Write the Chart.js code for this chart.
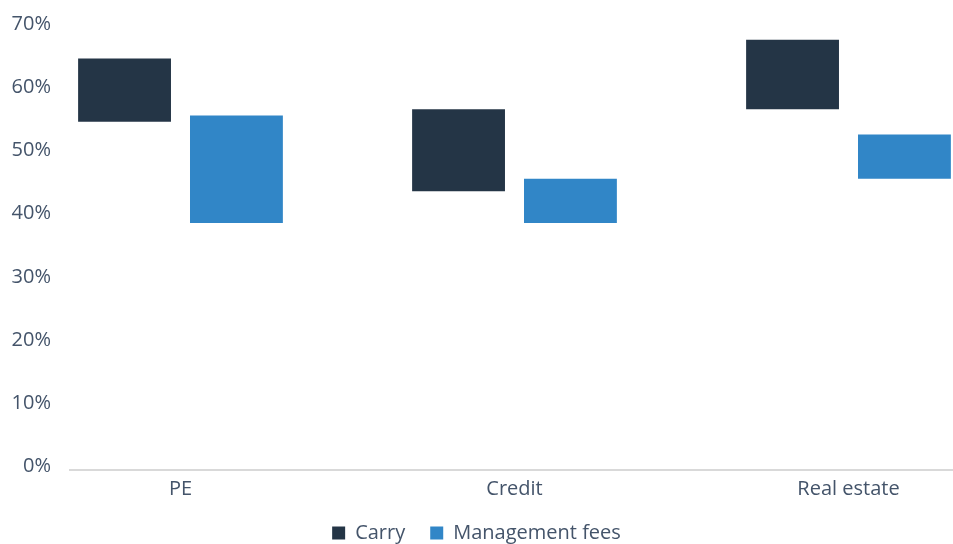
<!DOCTYPE html>
<html>
<head>
  <meta charset="UTF-8">
  <title>Carry vs management fees</title>
  <script src="https://cdn.jsdelivr.net/npm/chart.js"></script>
  <style>
    html, body { margin: 0; padding: 0; background: #fff; overflow: hidden; }
    #wrap { position: relative; width: 953px; height: 544px; }
  </style>
</head>
<body>
  <div id="wrap">
    <canvas id="feesChart"></canvas>
  </div>

  <script>
    // categories and floating ranges [low, high] in %
    const categories = ['PE', 'Credit', 'Real estate'];
    const carryRange = [[55, 65], [44, 57], [57, 68]];
    const mgmtRange = [[39, 56], [39, 46], [46, 53]];
    const yTicks = [0, 10, 20, 30, 40, 50, 60, 70];

    const textColor = '#44546a';
    Chart.defaults.font.family = "'Open Sans', sans-serif";
    Chart.defaults.font.size = 20;
    Chart.defaults.color = textColor;

    // legend box needs a fixed height so it sits where it does in the original
    const legendHeight = {
      id: 'legendHeight',
      beforeInit(chart) {
        const fit = chart.legend.fit;
        chart.legend.fit = function () {
          fit.call(this);
          this.height = 46;
        };
      }
    };

    const ctx = document.getElementById('feesChart').getContext('2d');

    new Chart(ctx, {
      type: 'bar',
      data: {
        datasets: [
          {
            label: 'Carry',
            backgroundColor: '#243546',
            data: carryRange.map((r, i) => ({ x: i, y: r })),
            categoryPercentage: 0.67,
            barPercentage: 0.83
          },
          {
            label: 'Management fees',
            backgroundColor: '#3186c7',
            data: mgmtRange.map((r, i) => ({ x: i, y: r })),
            categoryPercentage: 0.67,
            barPercentage: 0.83
          }
        ]
      },
      options: {
        responsive: true,
        maintainAspectRatio: false,
        animation: false,
        layout: { padding: { top: 27, left: 0, right: 0, bottom: 0 } },
        scales: {
          x: {
            type: 'linear',
            offset: false,
            min: -0.3308,
            max: 2.3129,
            afterBuildTicks: scale => {
              scale.ticks = categories.map((_, i) => ({ value: i }));
            },
            afterFit: scale => { scale.height = 28.5; },
            ticks: {
              padding: 8,
              maxRotation: 0,
              autoSkip: false,
              callback: v => categories[v]
            },
            grid: { display: false, drawTicks: false },
            border: { display: true, color: '#d9d9d9', width: 2 }
          },
          y: {
            min: 0,
            max: 70,
            afterBuildTicks: scale => {
              scale.ticks = yTicks.map(v => ({ value: v }));
            },
            afterFit: scale => {
              scale.width = 70;
              // tick padding would otherwise push the plot top down
              scale.paddingTop = 0;
              scale.paddingBottom = 0;
            },
            ticks: {
              padding: 19,
              labelOffset: -3,
              callback: v => v + '%'
            },
            grid: { display: false, drawTicks: false },
            border: { display: false }
          }
        },
        plugins: {
          legend: {
            position: 'bottom',
            labels: {
              boxWidth: 13,
              boxHeight: 13,
              padding: 25,
              color: textColor
            }
          },
          tooltip: { enabled: false }
        }
      },
      plugins: [legendHeight]
    });
  </script>
</body>
</html>
